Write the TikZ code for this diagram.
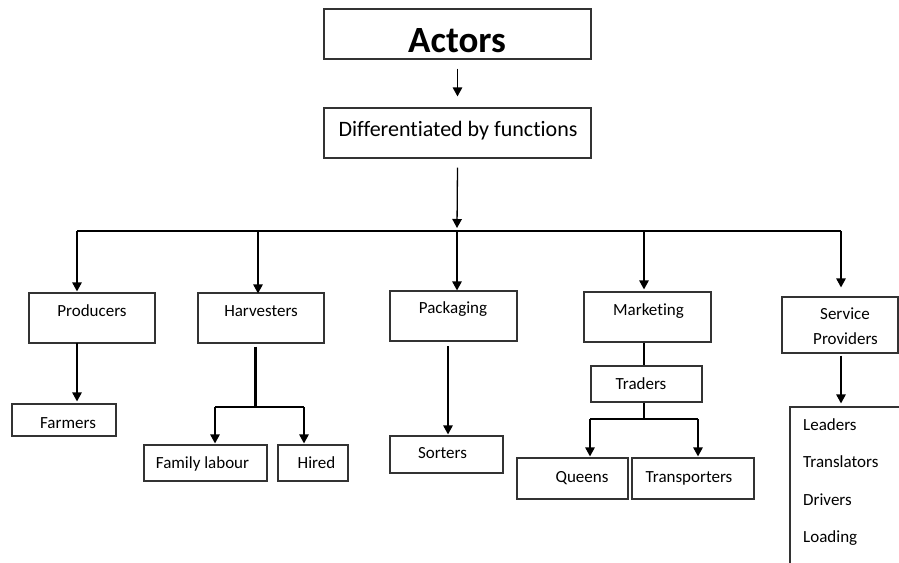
\documentclass[tikz,border=0pt]{standalone}
\usepackage{fontspec}
\setmainfont{Carlito}[Ligatures=NoCommon]
\usetikzlibrary{arrows.meta,calc}
\begin{document}
\begin{tikzpicture}[x=1pt,y=-1pt,
  box/.style={draw=black!80, line width=1.2pt, rectangle, inner sep=0pt},
  lbl/.style={anchor=base, inner sep=0pt, text=black, font=\fontsize{17}{20}\selectfont},
  item/.style={lbl, anchor=base west},
  arr/.style={line width=1.3pt, -{Triangle[width=9.5pt,length=9pt]}},
  ln/.style={line width=1.3pt}]
\useasboundingbox (0,0) rectangle (899,562);
\clip (0,0) rectangle (899,562);

% boxes
\node[box, minimum width=267pt, minimum height=50pt] (actors) at (457.5,34) {};
\node[box, minimum width=267pt, minimum height=50pt] (diff) at (457.5,133) {};
\node[box, minimum width=126pt, minimum height=50pt] (prod) at (92,318) {};
\node[box, minimum width=126pt, minimum height=50pt] (harv) at (261,318) {};
\node[box, minimum width=127pt, minimum height=50pt] (pack) at (453.5,316) {};
\node[box, minimum width=127pt, minimum height=50pt] (mark) at (647.5,317) {};
\node[box, minimum width=116pt, minimum height=56pt] (serv) at (840,325) {};
\node[box, minimum width=104pt, minimum height=32pt] (farm) at (64,420) {};
\node[box, minimum width=123pt, minimum height=36pt] (fam) at (205.5,463) {};
\node[box, minimum width=70pt, minimum height=36pt] (hired) at (313,463) {};
\node[box, minimum width=113pt, minimum height=37pt] (sort) at (446.5,454.5) {};
\node[box, minimum width=111pt, minimum height=36pt] (trad) at (646.5,384) {};
\node[box, minimum width=111pt, minimum height=41pt] (queen) at (572.5,478.5) {};
\node[box, minimum width=122pt, minimum height=41pt] (trans) at (693,478.5) {};
\node[box, minimum width=160pt, minimum height=193pt] (list) at (870,503.5) {};

% texts
\node[lbl, font=\fontsize{37}{40}\bfseries] (tActors) at (457,52) {Actors};
\node[lbl, font=\fontsize{22}{24}\selectfont] (tDiff) at (458,136) {Differentiated by functions};
\node[lbl] (tProd) at (92,316) {Producers};
\node[lbl] (tHarv) at (261,316) {Harvesters};
\node[lbl] (tPack) at (453,313.5) {Packaging};
\node[lbl] (tMark) at (648.5,315) {Marketing};
\node[lbl] (tServ) at (845,319) {Service};
\node[lbl] (tProv) at (845.5,344) {Providers};
\node[lbl] (tFarm) at (68,428) {Farmers};
\node[lbl] (tFam) at (202.5,468) {Family labour};
\node[lbl] (tHired) at (316.5,468) {Hired};
\node[lbl] (tSort) at (442.5,458) {Sorters};
\node[lbl] (tTrad) at (641,389) {Traders};
\node[lbl] (tQueen) at (582,482) {Queens};
\node[lbl] (tTrans) at (689,482) {Transporters};
\node[item] (tLead) at (803,430) {Leaders};
\node[item] (tTransl) at (803,467.5) {Translators};
\node[item] (tDriv) at (803,505) {Drivers};
\node[item] (tLoad) at (803,542.5) {Loading};

% distribution bus
\coordinate (bP) at (77,231);
\coordinate (bH) at (258,231);
\coordinate (bK) at (457,231);
\coordinate (bM) at (644,231);
\coordinate (bS) at (841,231);

\draw[arr] ([yshift=-9pt]actors.south) -- ([yshift=11pt]diff.north);
\draw[arr] ([yshift=-9pt]diff.south) -- ($(bK)+(0,-3)$);
\draw[ln] (bP) -- (bS);
\draw[arr] (bP) -- ($(bP |- prod.north)+(0,-1)$);
\draw[arr] (bH) -- ($(bH |- harv.north)+(0,1)$);
\draw[arr] (bK) -- (bK |- pack.north);
\draw[arr] (bM) -- ($(bM |- mark.north)+(0,-2)$);
\draw[arr] (bS) -- ($(bS |- serv.north)+(0,-9)$);

% producers
\draw[arr] ($(bP |- prod.south)+(0,-1)$) -- ($(bP |- farm.north)+(0,-2)$);

% harvesters
\coordinate (hJ) at (255.5,407);
\coordinate (hL) at (215,407);
\coordinate (hR) at (304,407);
\draw[line width=2.4pt] ($(hJ |- harv.south)+(0,3)$) -- (hJ);
\draw[ln] (hL) -- (hR);
\draw[arr] (hL) -- ($(hL |- fam.north)+(0,-1)$);
\draw[arr] (hR) -- ($(hR |- hired.north)+(0,-1)$);

% packaging
\coordinate (pJ) at (448,346);
\draw[arr] (pJ) -- ($(pJ |- sort.north)+(0,-1)$);

% marketing
\coordinate (mJ) at (644,419);
\coordinate (qL) at (590,419);
\coordinate (qR) at (698,419);
\draw[ln] (mJ |- mark.south) -- (mJ |- trad.north);
\draw[ln] (mJ |- trad.south) -- (mJ);
\draw[ln] (qL) -- (qR);
\draw[arr] (qL) -- ($(qL |- queen.north)+(0,-1)$);
\draw[arr] (qR) -- ($(qR |- trans.north)+(0,-1)$);

% service providers
\draw[arr] ($(bS |- serv.south)+(0,2)$) -- ($(bS |- list.north)+(0,-3)$);
\end{tikzpicture}
\end{document}
